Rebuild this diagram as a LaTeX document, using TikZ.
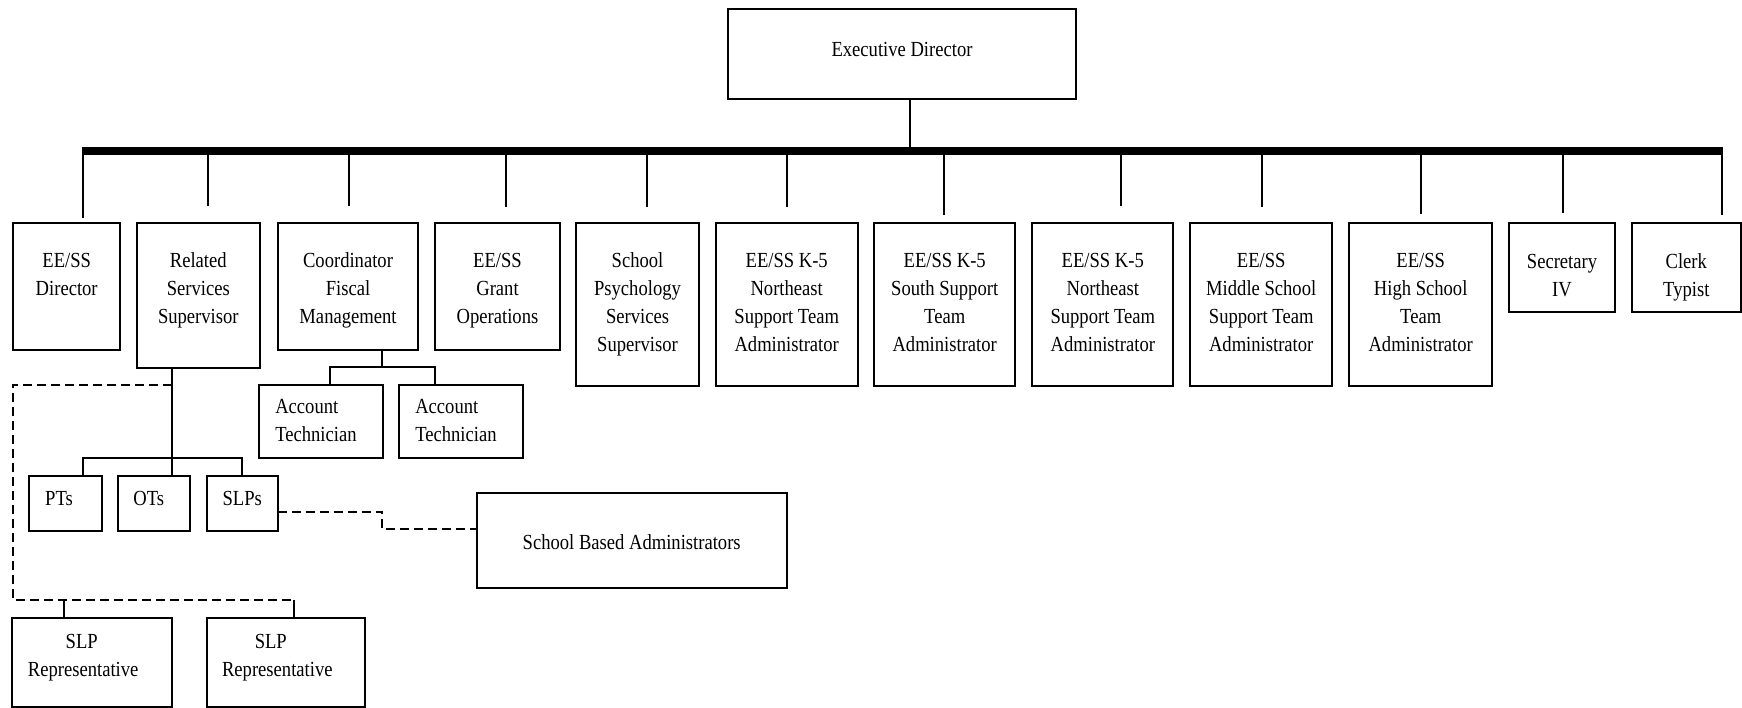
\documentclass[tikz,border=0pt]{standalone}
\usepackage{fontspec}
\setmainfont{Liberation Serif}[FakeStretch=0.865]
\usetikzlibrary{calc}
% centred box text, first baseline #3 below the top
\newcommand\bx[4]{\parbox[c][#2pt][t]{#1pt}{\centering\rule{0pt}{#3pt}#4\par}}
% left aligned box text
\newcommand\bxl[4]{\parbox[c][#2pt][t]{#1pt}{\raggedright\leftskip=16pt\rule{0pt}{#3pt}#4\par}}
\begin{document}
\begin{tikzpicture}[x=1pt,y=-1pt,
  every node/.style={font=\fontsize{21.5}{28}\selectfont},
  box/.style={draw,line width=2pt,rectangle,inner sep=0pt,outer sep=0pt},
  conn/.style={line width=2pt},
  busline/.style={line width=8.3pt},
  dashline/.style={line width=2pt,dash pattern=on 9pt off 5pt},
]
\useasboundingbox (0,0) rectangle (1742,708);
\fill[white] (0,0) rectangle (1742,708);

% top
\node[box] (exec) at (902,54) {\bx{348}{90}{47.3}{Executive Director}};

% second row
\node[box] (d1) at (66.7,286.3) {\bx{106.7}{127.3}{45.3}{EE/SS\\Director}};
\node[box] (d2) at (198.3,295.5) {\bx{123.3}{145.6}{45.3}{Related\\Services\\Supervisor}};
\node[box] (d3) at (348,286.3) {\bx{140.6}{127.3}{45.3}{Coordinator\\Fiscal\\Management}};
\node[box] (d4) at (497.5,286.3) {\bx{125}{127.3}{45.3}{EE/SS\\Grant\\Operations}};
\node[box] (d5) at (637.5,304.3) {\bx{123}{163.3}{45.3}{School\\Psychology\\Services\\Supervisor}};
\node[box] (d6) at (786.7,304.3) {\bx{142}{163.3}{45.3}{EE/SS K-5\\Northeast\\Support Team\\Administrator}};
\node[box] (d7) at (944.7,304.3) {\bx{140.7}{163.3}{45.3}{EE/SS K-5\\South Support\\Team\\Administrator}};
\node[box] (d8) at (1102.8,304.3) {\bx{141}{163.3}{45.3}{EE/SS K-5\\Northeast\\Support Team\\Administrator}};
\node[box] (d9) at (1261.2,304.3) {\bx{142.3}{163.3}{45.3}{EE/SS\\Middle School\\Support Team\\Administrator}};
\node[box] (d10) at (1420.7,304.3) {\bx{142.7}{163.3}{45.3}{EE/SS\\High School\\Team\\Administrator}};
\node[box] (d11) at (1562,267.2) {\bx{106.6}{89}{46}{Secretary\\IV}};
\node[box] (d12) at (1686.3,267.2) {\bx{108.5}{89}{46}{Clerk\\Typist}};

% lower boxes
\node[box] (at1) at (321,421.7) {\bxl{123.4}{73.3}{28.7}{Account\\Technician}};
\node[box] (at2) at (461.3,421.7) {\bxl{124}{73.3}{28.7}{Account\\Technician}};
\node[box] (pts) at (65.5,503.3) {\bx{72.4}{54.7}{30}{\hspace*{-13pt}PTs}};
\node[box] (ots) at (154.2,503.3) {\bx{71.7}{54.7}{30}{\hspace*{-11pt}OTs}};
\node[box] (slps) at (242.2,503.3) {\bx{71}{54.7}{29.3}{SLPs}};
\node[box] (sba) at (631.7,540.8) {\bx{310}{95}{55.7}{School Based Administrators}};
\node[box] (rep1) at (91.7,662.5) {\bx{160}{88.4}{29.7}{\hspace*{-20pt}SLP\\\hspace*{-17pt}Representative}};
\node[box] (rep2) at (285.8,662.5) {\bx{158.3}{88.4}{29.7}{\hspace*{-30pt}SLP\\\hspace*{-17pt}Representative}};

% bus
\coordinate (bl) at (82.3,151);
\coordinate (br) at (1723,151);
\coordinate (bx) at (910,151);
\draw[busline] (bl) -- (br);
\draw[conn] (exec.south -| bx) -- (bx);
\foreach \n/\x/\g in {d1/83.3/4.7, d2/208.3/16.7, d3/349/16.7, d4/506/15.7,
  d5/646.7/15.7, d6/786.7/15.7, d7/944.3/7.7, d8/1120.7/17, d9/1262.3/15.7,
  d10/1421/9, d11/1563/9.7, d12/1722/7.7}{
  \coordinate (b\n) at (\x,151);
  \draw[conn] (b\n) -- ($(b\n |- \n.north)+(0,-\g)$);
}

% related services
\coordinate (rj) at (172.3,458.3);
\draw[conn] (d2.south -| rj) -- (rj |- ots.north);
\draw[conn] ($(pts.north)+(17.2,0)$) |- (rj) -| (slps.north);

% dashed enclosure and SLP representatives
\coordinate (dj) at (172.3,385);
\coordinate (dl) at (12.7,600);
\coordinate (dr) at (294.3,600);
\coordinate (dm) at (64.3,600);
\draw[dashline] (dj) -| (dl) -- (dr);
\draw[conn] (dr) -- (dr |- rep2.north);
\draw[conn] (dm) -- (dm |- rep1.north);

% SLPs to school based administrators
\coordinate (sj1) at (382.3,511.7);
\coordinate (sj2) at (382.3,529);
\draw[dashline] (slps.east |- sj1) -- (sj1) -- (sj2) -- (sj2 -| sba.west);

% fiscal management
\coordinate (fj) at (382.3,366.7);
\draw[conn] (d3.south -| fj) -- (fj);
\draw[conn] ($(at1.north)+(9,0)$) |- (fj) -| ($(at2.north)+(-26.3,0)$);
\end{tikzpicture}
\end{document}
